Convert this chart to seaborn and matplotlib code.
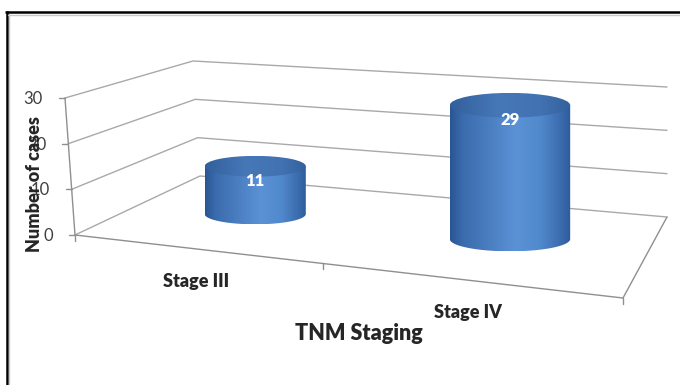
import numpy as np
import pandas as pd
import matplotlib
matplotlib.use("Agg")
import matplotlib.pyplot as plt
import seaborn as sns
from matplotlib.path import Path
from matplotlib.patches import PathPatch, Ellipse
from matplotlib.colors import LinearSegmentedColormap

# ---- data ----
categories = ["Stage III", "Stage IV"]
cases = [11, 29]
value_ticks = [0, 10, 20, 30]
x_title = "TNM Staging"
y_title = "Number of cases"

sns.set_theme(style="white")
plt.rcParams["font.family"] = ["Lato", "DejaVu Sans"]

fig = plt.figure(figsize=(6.8, 3.85), dpi=100)
ax = fig.add_axes([0, 0, 1, 1])

# ---- perspective frame of the 3-D plot area (screen pixels) ----
# floor corners: front-left, front-right, back-right, back-left
floor = np.array([[75, 235], [623, 298], [667, 217], [200, 176]], float)
# screen vector of a full-scale vertical edge at each floor corner
rise = np.array([[-10, -137], [-1, -155], [0, -130], [-7, -115]], float)
zmax = value_ticks[-1]

# homography from the unit square (u = category axis, d = depth) to the floor
src = [(0, 0), (1, 0), (1, 1), (0, 1)]
A, b = [], []
for (u, d), (x, y) in zip(src, floor):
    A.append([u, d, 1, 0, 0, 0, -u * x, -d * x]); b.append(x)
    A.append([0, 0, 0, u, d, 1, -u * y, -d * y]); b.append(y)
hcoef = np.linalg.solve(np.array(A), np.array(b))
H = np.append(hcoef, 1).reshape(3, 3)


def floor_pt(u, d):
    p = H @ np.array([u, d, 1.0])
    return p[:2] / p[2]


def rise_vec(u, d):
    return ((1 - u) * (1 - d) * rise[0] + u * (1 - d) * rise[1]
            + u * d * rise[2] + (1 - u) * d * rise[3])


def proj(u, d, z):
    return floor_pt(u, d) + rise_vec(u, d) * z / zmax


# ---- walls: gridlines on side and back wall ----
rows = []
for z in value_ticks:
    for k, (u, d) in enumerate([(0, 0), (0, 1), (1, 1)]):
        x, y = proj(u, d, z)
        rows.append({"level": z, "order": k, "x": x, "y": y})
grid = pd.DataFrame(rows)
sns.lineplot(data=grid, x="x", y="y", units="level", estimator=None,
             sort=False, color="#a9a9a9", lw=1.0, ax=ax, legend=False, zorder=1)

axis_col = "#8f8f8f"
# floor front and right edges
for (u0, d0), (u1, d1) in [((0, 0), (1, 0)), ((1, 0), (1, 1))]:
    p0, p1 = proj(u0, d0, 0), proj(u1, d1, 0)
    ax.plot([p0[0], p1[0]], [p0[1], p1[1]], color=axis_col, lw=1.0, zorder=1)
# value axis
p0, p1 = proj(0, 0, 0), proj(0, 0, zmax)
ax.plot([p0[0], p1[0]], [p0[1], p1[1]], color=axis_col, lw=1.0, zorder=1)
for z in value_ticks:
    p = proj(0, 0, z)
    ax.plot([p[0] - 6, p[0]], [p[1], p[1]], color=axis_col, lw=1.0, zorder=1)
    ax.text(p[0] - 22, p[1] + 1, str(z), ha="right", va="center",
            fontsize=12, color="#404040", zorder=5)
# category ticks on the front edge
for u in np.linspace(0, 1, len(categories) + 1):
    p = proj(u, 0, 0)
    ax.plot([p[0], p[0]], [p[1], p[1] + 6], color=axis_col, lw=1.0, zorder=1)

# ---- cylinders ----
body_cmap = LinearSegmentedColormap.from_list("body", [
    (0.0, "#2a5593"), (0.10, "#3a6bad"), (0.55, "#5b92d6"),
    (0.75, "#5189cd"), (0.92, "#3a6bad"), (1.0, "#2d5b99")])
top_cmap = LinearSegmentedColormap.from_list("top", [
    (0.0, "#33609c"), (0.40, "#4677b7"), (0.75, "#4272b2"), (1.0, "#33619d")])
grad = np.linspace(0, 1, 256)[None, :]

n = len(categories)
half_w = 0.22 / n  # bar diameter relative to the category slot
for i, (cat, val) in enumerate(zip(categories, cases)):
    u = (i + 0.5) / n
    cx, ybot = floor_pt(u, 0.5)
    cx += 2 + 4 * i
    rx = (floor_pt(u + half_w, 0.5)[0] - floor_pt(u - half_w, 0.5)[0]) / 2
    ry = 0.205 * rx
    ytop = proj(u, 0.5, val)[1]

    t = np.linspace(np.pi, 0, 60)
    verts = ([(cx - rx, ytop), (cx - rx, ybot)]
             + [(cx + rx * np.cos(a), ybot + ry * np.sin(a)) for a in t]
             + [(cx + rx, ytop), (cx - rx, ytop)])
    body = PathPatch(Path(verts), facecolor="none", edgecolor="none",
                     transform=ax.transData)
    ax.add_patch(body)
    im = ax.imshow(grad, cmap=body_cmap, aspect="auto", interpolation="bilinear",
                   extent=(cx - rx, cx + rx, ybot + ry, ytop), zorder=3)
    im.set_clip_path(body)

    top = Ellipse((cx, ytop), 2 * rx, 2 * ry, facecolor="none", edgecolor="none",
                  transform=ax.transData)
    ax.add_patch(top)
    imt = ax.imshow(grad, cmap=top_cmap, aspect="auto", interpolation="bilinear",
                    extent=(cx - rx, cx + rx, ytop + ry, ytop - ry), zorder=4)
    imt.set_clip_path(top)

    ax.text(cx, ytop + 15, str(val), ha="center", va="center", color="white",
            fontsize=12, fontweight="heavy", zorder=6)

    pf = proj(u, 0, 0)
    ax.text(pf[0] + 3, pf[1] + 33, cat, ha="center", va="center",
            fontsize=13, fontweight="heavy", color="#262626", zorder=5)

# ---- titles ----
ax.text(359, 333, x_title, ha="center", va="center", fontsize=15.5,
        fontweight="heavy", color="#262626")
ax.text(35, 184, y_title, ha="center", va="center", rotation=90,
        fontsize=13, fontweight="heavy", color="#262626", zorder=6)

# ---- chart frame ----
ax.plot([5, 680], [12, 12], color="black", lw=1.8, solid_capstyle="butt")
ax.plot([6.5, 6.5], [11, 385], color="black", lw=1.8, solid_capstyle="butt")
ax.plot([8, 680], [14.5, 14.5], color="#c8c8c8", lw=1.0)
ax.plot([9, 9], [14, 385], color="#c8c8c8", lw=1.0)

ax.set_xlim(0, 680)
ax.set_ylim(385, 0)
ax.axis("off")

fig.savefig("out.png", dpi=100, facecolor="white")
